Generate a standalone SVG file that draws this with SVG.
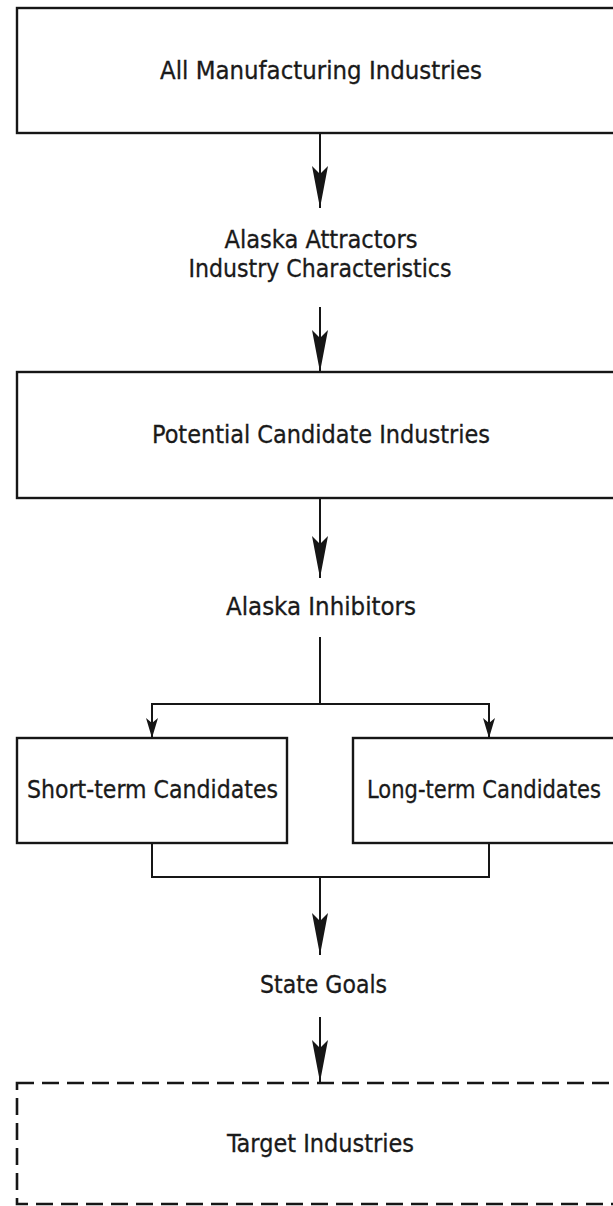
<svg xmlns="http://www.w3.org/2000/svg" width="613" height="1206" viewBox="0 0 613 1206">
  <style>
    .box { fill: none; stroke: #161616; stroke-width: 2.4; }
    .dash { fill: none; stroke: #161616; stroke-width: 2.6; stroke-dasharray: 17 8; }
    .conn { fill: none; stroke: #161616; stroke-width: 2; }
    .big { marker-end: url(#big); }
    .small { marker-end: url(#small); }
    text { font-family: "Liberation Sans Narrow", "DejaVu Sans Condensed", "Liberation Sans", sans-serif; font-size: 25px; fill: #1a1a1a; stroke: #1a1a1a; stroke-width: 0.3; text-anchor: middle; }
  </style>
  <defs>
    <marker id="big" markerUnits="userSpaceOnUse" markerWidth="50" markerHeight="20" viewBox="-45 -10 50 20" refX="0" refY="0" orient="auto">
      <path d="M0,0 L-42,-8 L-34,0 L-42,8 Z" fill="#161616"/>
    </marker>
    <marker id="small" markerUnits="userSpaceOnUse" markerWidth="26" markerHeight="16" viewBox="-23 -8 26 16" refX="0" refY="0" orient="auto">
      <path d="M0,0 L-20,-6 L-15,0 L-20,6 Z" fill="#161616"/>
    </marker>
  </defs>
  <rect width="613" height="1206" fill="#ffffff"/>

  <g id="connectors">
    <path class="conn big" d="M320,133 V208"/>
    <path class="conn big" d="M320,307 V372"/>
    <path class="conn big" d="M320,497 V578"/>
    <path class="conn" d="M320,637 V704"/>
    <path class="conn small" d="M320,704 H152 V738"/>
    <path class="conn small" d="M320,704 H489 V738"/>
    <path class="conn" d="M152,843 V877 H489 V843"/>
    <path class="conn big" d="M320,877 V955"/>
    <path class="conn big" d="M320,1017 V1082"/>
  </g>

  <g id="all-manufacturing">
    <rect class="box" x="17" y="8" width="620" height="125"/>
    <text x="321" y="79" textLength="322" lengthAdjust="spacingAndGlyphs">All Manufacturing Industries</text>
  </g>

  <g id="attractors-label">
    <text x="321" y="248" textLength="193" lengthAdjust="spacingAndGlyphs">Alaska Attractors</text>
    <text x="320" y="277" textLength="263" lengthAdjust="spacingAndGlyphs">Industry Characteristics</text>
  </g>

  <g id="potential-candidates">
    <rect class="box" x="17" y="372" width="620" height="126"/>
    <text x="321" y="443" textLength="338" lengthAdjust="spacingAndGlyphs">Potential Candidate Industries</text>
  </g>

  <g id="inhibitors-label">
    <text x="321" y="615" textLength="190" lengthAdjust="spacingAndGlyphs">Alaska Inhibitors</text>
  </g>

  <g id="short-term">
    <rect class="box" x="17" y="738" width="270" height="105"/>
    <text x="152.5" y="798" textLength="251" lengthAdjust="spacingAndGlyphs">Short-term Candidates</text>
  </g>

  <g id="long-term">
    <rect class="box" x="353" y="738" width="263" height="105"/>
    <text x="484" y="798" textLength="234" lengthAdjust="spacingAndGlyphs">Long-term Candidates</text>
  </g>

  <g id="state-goals-label">
    <text x="323.5" y="993" textLength="127" lengthAdjust="spacingAndGlyphs">State Goals</text>
  </g>

  <g id="target-industries">
    <rect class="dash" x="17" y="1083" width="620" height="121"/>
    <text x="320.5" y="1152" textLength="187" lengthAdjust="spacingAndGlyphs">Target Industries</text>
  </g>
</svg>
